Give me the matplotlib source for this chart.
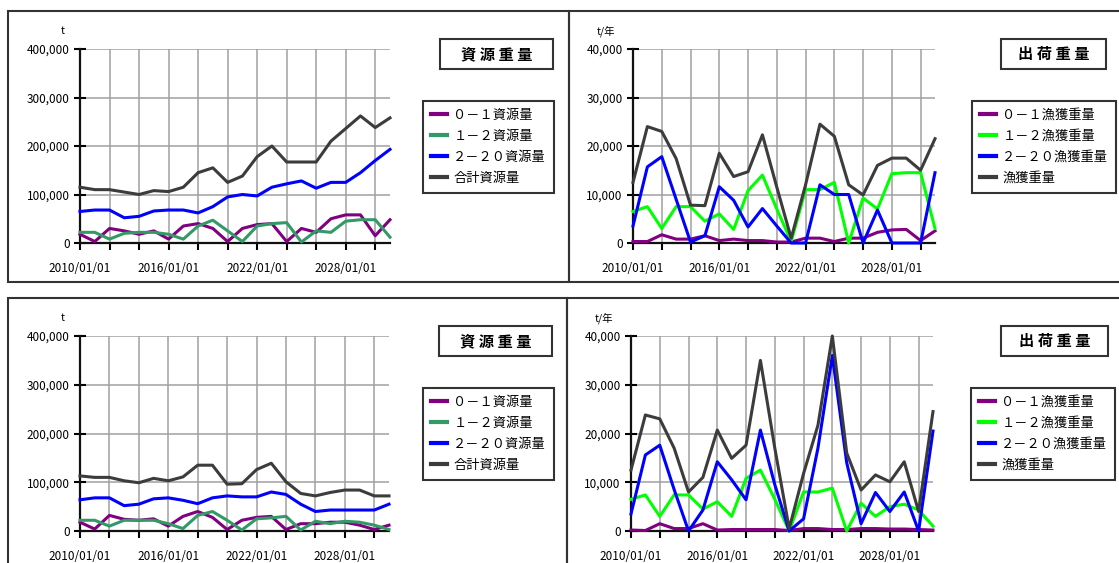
import matplotlib
matplotlib.use("Agg")
import matplotlib.pyplot as plt
from matplotlib.patches import Rectangle

plt.rcParams['font.family'] = ['Noto Sans CJK JP', 'DejaVu Sans']

# ---- data (values in thousands of t) ----
years = list(range(2010, 2032))
grid_years = list(range(2010, 2031, 2))
label_years = [2010, 2016, 2022, 2028]

stock_title = "資 源 重 量"
catch_title = "出 荷 重 量"
stock_labels = ["０－１資源量", "１－２資源量", "２－２０資源量", "合計資源量"]
catch_labels = ["０－１漁獲重量", "１－２漁獲重量", "２－２０漁獲重量", "漁獲重量"]
stock_unit = "t"
catch_unit = "t/年"

# top-left: stock
tl_age01 = [18, 3, 30, 25, 18, 25, 8, 35, 40, 30, 3, 30, 38, 40, 3, 30, 22, 50, 58, 58, 15, 48]
tl_age12 = [22, 22, 8, 20, 22, 22, 18, 8, 35, 47, 25, 3, 35, 40, 42, 2, 25, 22, 45, 48, 48, 12]
tl_age220 = [65, 68, 68, 52, 55, 66, 68, 68, 62, 75, 95, 100, 97, 115, 122, 128, 113, 125, 125, 145, 170, 193]
tl_total = [115, 110, 110, 105, 100, 108, 106, 115, 145, 155, 125, 138, 178, 200, 167, 167, 167, 210, 236, 262, 238, 258]

# top-right: catch
tr_age01 = [0.3, 0.3, 1.7, 0.8, 0.8, 1.5, 0.5, 0.8, 0.5, 0.5, 0.2, 0.2, 1.0, 1.0, 0.3, 1.0, 1.0, 2.2, 2.7, 2.8, 0.5, 2.5]
tr_age12 = [6.5, 7.5, 3.0, 7.5, 7.5, 4.5, 6.0, 2.8, 10.8, 14.0, 7.0, 0.3, 11.0, 11.0, 12.5, 0.0, 9.3, 7.0, 14.3, 14.5, 14.5, 3.0]
tr_age220 = [3.5, 15.7, 17.8, 9.0, 0.2, 1.5, 11.6, 8.8, 3.3, 7.1, 3.5, 0.0, 0.0, 12.0, 10.0, 10.0, 0.0, 6.8, 0.0, 0.0, 0.0, 14.5]
tr_total = [12.5, 24.0, 23.0, 17.4, 7.8, 7.7, 18.5, 13.7, 14.7, 22.3, 11.5, 1.0, 12.0, 24.5, 22.0, 12.0, 9.9, 16.0, 17.5, 17.5, 15.0, 21.5]

# bottom-left: stock
bl_age01 = [18, 4, 32, 24, 22, 25, 10, 30, 40, 28, 3, 22, 28, 30, 3, 15, 15, 18, 18, 12, 3, 12]
bl_age12 = [22, 22, 10, 22, 22, 22, 15, 5, 32, 40, 22, 2, 25, 27, 30, 2, 20, 15, 20, 18, 12, 3]
bl_age220 = [64, 68, 68, 52, 55, 66, 68, 63, 56, 68, 72, 70, 70, 80, 75, 55, 40, 43, 43, 43, 43, 55]
bl_total = [113, 110, 110, 103, 99, 108, 103, 111, 135, 135, 96, 97, 126, 139, 101, 77, 72, 79, 84, 84, 72, 72]

# bottom-right: catch
br_age01 = [0.2, 0.1, 1.5, 0.5, 0.5, 1.5, 0.2, 0.3, 0.3, 0.3, 0.3, 0.1, 0.5, 0.5, 0.3, 0.3, 0.5, 0.5, 0.4, 0.4, 0.3, 0.2]
br_age12 = [6.5, 7.4, 3.0, 7.4, 7.4, 4.5, 6.0, 3.0, 10.8, 12.5, 6.5, 0.0, 8.0, 8.0, 8.8, 0.0, 5.7, 3.0, 5.0, 5.5, 4.3, 1.0]
br_age220 = [3.5, 15.6, 17.6, 8.5, 0.0, 4.3, 14.2, 10.5, 6.4, 20.7, 9.5, 0.0, 2.5, 17.0, 36.0, 14.0, 1.5, 7.9, 4.0, 8.0, 0.0, 20.5]
br_total = [12.5, 23.8, 23.0, 17.0, 8.0, 11.0, 20.7, 14.9, 17.6, 35.0, 17.0, 0.5, 11.8, 21.7, 40.0, 16.0, 8.4, 11.5, 10.1, 14.2, 4.0, 24.5]

stock_colors = ['#800080', '#339966', '#0000ff', '#3c3c3c']
catch_colors = ['#800080', '#00ff00', '#0000ff', '#3c3c3c']

W, H = 1119, 563
fig = plt.figure(figsize=(W / 100, H / 100), dpi=100)


def fx(x):
    return x / W


def fy(y):
    return 1 - y / H


def frame(x0, y0, x1, y1, lw=1.5):
    fig.add_artist(Rectangle((fx(x0), fy(y1)), (x1 - x0) / W, (y1 - y0) / H,
                             transform=fig.transFigure, fill=False,
                             ec='#333333', lw=lw))


def panel(ax_px, dy, series, labels, colors, ymax, title, unit,
          title_box, legend_xy, unit_xy):
    x0, y0, x1, y1 = ax_px
    ax = fig.add_axes([fx(x0), fy(y1 + dy), (x1 - x0) / W, (y1 - y0) / H])
    handles = []
    for vals, c in zip(series, colors):
        ln, = ax.plot(years, [v * 1000 for v in vals], color=c, lw=2.2,
                      clip_on=False, zorder=3)
        handles.append(ln)
    ax.set_xlim(2010, 2031)
    ax.set_ylim(0, ymax)
    ax.set_yticks(range(0, ymax + 1, ymax // 4))
    ax.set_yticklabels([f"{v:,}" for v in range(0, ymax + 1, ymax // 4)])
    ax.set_xticks(grid_years)
    ax.set_xticklabels([f"{y}/01/01" if y in label_years else "" for y in grid_years])
    ax.set_axisbelow(True)
    ax.grid(True, color='#a0a0a0', lw=1.1)
    for s in ['top', 'right']:
        ax.spines[s].set_visible(False)
    for s in ['left', 'bottom']:
        ax.spines[s].set_linewidth(1.6)
        ax.spines[s].set_color('#111111')
    ax.tick_params(axis='y', direction='inout', length=9, width=1.5, pad=3,
                   labelsize=8.5)
    ax.tick_params(axis='x', direction='out', length=5, width=1.5, pad=9,
                   labelsize=8.5)

    tx0, ty0, tx1, ty1 = title_box
    frame(tx0, ty0 + dy, tx1, ty1 + dy)
    fig.text(fx((tx0 + tx1) / 2), fy((ty0 + ty1) / 2 + dy), title,
             ha='center', va='center', fontsize=11, fontweight='bold')

    leg = ax.legend(handles, labels, loc='upper left',
                    bbox_to_anchor=(fx(legend_xy[0]), fy(legend_xy[1] + dy)),
                    bbox_transform=fig.transFigure, frameon=True,
                    fancybox=False, edgecolor='black', fontsize=9.5,
                    handlelength=1.2, handletextpad=0.5, labelspacing=0.6,
                    borderpad=0.6, borderaxespad=0)
    leg.get_frame().set_linewidth(1.5)
    for ln in leg.get_lines():
        ln.set_linewidth(3)

    fig.text(fx(unit_xy[0]), fy(unit_xy[1] + dy), unit, ha='center',
             va='center', fontsize=7.5)
    return ax


# outer panel frames
frame(8, 11, 569, 282)
frame(569, 11, 1130, 282)
frame(8, 298, 567, 575)
frame(567, 298, 1130, 575)

panel((80, 49, 390, 243), 0,
      [tl_age01, tl_age12, tl_age220, tl_total], stock_labels, stock_colors,
      400000, stock_title, stock_unit, (440, 39, 553, 69), (423, 101), (63, 31))
panel((633, 49, 935, 243), 0,
      [tr_age01, tr_age12, tr_age220, tr_total], catch_labels, catch_colors,
      40000, catch_title, catch_unit, (1001, 39, 1106, 69), (972, 101), (606, 31))
panel((80, 49, 389, 244), 287,
      [bl_age01, bl_age12, bl_age220, bl_total], stock_labels, stock_colors,
      400000, stock_title, stock_unit, (439, 39, 552, 69), (423, 101), (63, 31))
panel((631, 49, 933, 244), 287,
      [br_age01, br_age12, br_age220, br_total], catch_labels, catch_colors,
      40000, catch_title, catch_unit, (1001, 39, 1108, 69), (971, 101), (604, 31))

fig.savefig("out.png", dpi=100)
